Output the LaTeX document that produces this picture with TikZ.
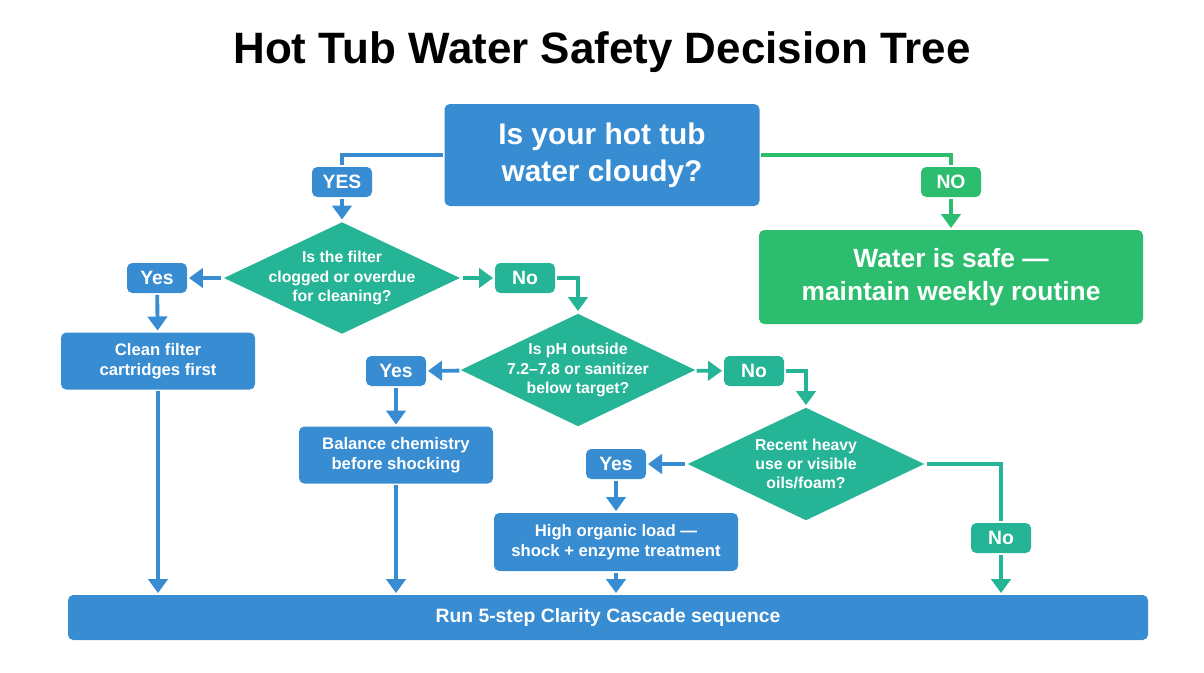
\documentclass[tikz,border=0pt]{standalone}
\usepackage{fontspec}
\setmainfont{Liberation Sans}
\usetikzlibrary{arrows.meta,shapes.geometric}
\definecolor{node_blue}{RGB}{55,140,210}
\definecolor{node_teal}{RGB}{38,180,150}
\definecolor{node_green}{RGB}{44,190,110}
\begin{document}
\begin{tikzpicture}[line width=2.2pt,>={Triangle[length=8pt,width=11pt]}]
    \tikzstyle{box}=[rounded corners=3pt, text=white, font=\bfseries, align=center, inner sep=0pt]
    \tikzstyle{q}=[style=box, fill=node_blue, minimum width=6.3cm, minimum height=2.04cm, font=\bfseries\fontsize{17}{21}\selectfont]
    \tikzstyle{act}=[style=box, fill=node_blue, minimum width=3.88cm, minimum height=1.14cm, font=\bfseries\fontsize{9.5}{11.5}\selectfont]
    \tikzstyle{dec}=[diamond, fill=node_teal, inner sep=0pt, minimum width=4.75cm, minimum height=2.26cm]
    \tikzstyle{dtext}=[text=white, align=center, font=\bfseries\fontsize{9}{11}\selectfont]
    \tikzstyle{yl}=[style=box, fill=node_blue, minimum width=1.2cm, minimum height=0.6cm, font=\bfseries\fontsize{11}{13}\selectfont]
    \tikzstyle{nl}=[style=yl, fill=node_teal]
    \useasboundingbox (0,0) rectangle (24.08,-13.44);

    \node[font=\bfseries\fontsize{25}{30}\selectfont] (title) at (12.04,-1.04) {Hot Tub Water Safety Decision Tree};

    \node[q] (q1) at (12.04,-3.1) {Is your hot tub\\water cloudy?};
    \node[yl] (yes0) at (6.84,-3.64) {YES};
    \node[nl, fill=node_green] (no0) at (19.02,-3.64) {NO};
    \node[q, fill=node_green, minimum width=7.68cm, minimum height=1.88cm, font=\bfseries\fontsize{15}{19}\selectfont] (safe) at (19.02,-5.54) {Water is safe ---\\maintain weekly routine};

    \node[dec, label={[dtext]center:Is the filter\\clogged or overdue\\for cleaning?}] (d1) at (6.84,-5.56) {};
    \node[yl] (yes1) at (3.14,-5.56) {Yes};
    \node[nl] (no1) at (10.5,-5.56) {No};
    \node[act] (clean) at (3.16,-7.22) {Clean filter\\cartridges first};

    \node[dec, minimum width=4.72cm, minimum height=2.28cm, label={[dtext]center:Is pH outside\\7.2--7.8 or sanitizer\\below target?}] (d2) at (11.56,-7.4) {};
    \node[yl] (yes2) at (7.92,-7.42) {Yes};
    \node[nl] (no2) at (15.08,-7.42) {No};
    \node[act] (balance) at (7.92,-9.1) {Balance chemistry\\before shocking};

    \node[dec, minimum width=4.76cm, minimum height=2.28cm, label={[dtext]center:Recent heavy\\use or visible\\oils/foam?}] (d3) at (16.12,-9.28) {};
    \node[yl] (yes3) at (12.32,-9.28) {Yes};
    \node[nl] (no3) at (20.02,-10.76) {No};
    \node[act, minimum width=4.88cm, minimum height=1.16cm] (high) at (12.32,-10.84) {High organic load ---\\shock + enzyme treatment};

    \node[box, fill=node_blue, minimum width=21.6cm, minimum height=0.9cm, font=\bfseries\fontsize{11}{13}\selectfont] (run) at (12.16,-12.35) {Run 5-step Clarity Cascade sequence};

    \draw[node_blue] (q1.west) -| (yes0.north);
    \draw[node_blue,->] (yes0) -- (d1);
    \draw[node_green] (q1.east) -| (no0.north);
    \draw[node_green,->] (no0) -- (safe);

    \draw[node_blue,->] (d1) -- (yes1);
    \draw[node_blue,->] (yes1) -- (clean);
    \draw[node_teal,->] (d1) -- (no1);
    \draw[node_teal,->] (no1.east) -| (d2.north);

    \draw[node_blue,->] (d2) -- (yes2);
    \draw[node_blue,->] (yes2) -- (balance);
    \draw[node_teal,->] (d2) -- (no2);
    \draw[node_teal,->] (no2.east) -| (d3.north);

    \draw[node_blue,->] (d3) -- (yes3);
    \draw[node_blue,->] (yes3) -- (high);
    \draw[node_teal] (d3.east) -| (no3.north);
    \draw[node_teal,->] (no3) -- (no3 |- run.north);

    \draw[node_blue,->] (clean) -- (clean |- run.north);
    \draw[node_blue,->] (balance) -- (balance |- run.north);
    \draw[node_blue,->] (high) -- (high |- run.north);
\end{tikzpicture}
\end{document}
